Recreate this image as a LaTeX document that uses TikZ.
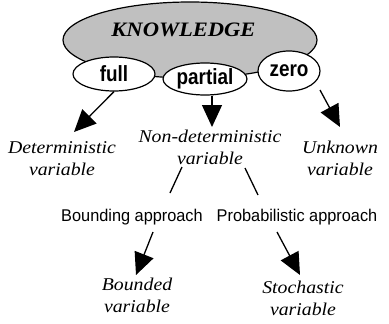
\documentclass[tikz,border=0pt]{standalone}
\usepackage{fontspec}
\setmainfont{Liberation Serif}
\newfontfamily\serifw[FakeStretch=1.1]{Liberation Serif}
\newfontfamily\sansr[FakeStretch=0.96]{Liberation Sans}
\newfontfamily\sansb[FakeStretch=0.86]{Liberation Sans}
\usetikzlibrary{shapes.geometric,arrows.meta}
\definecolor{knowgray}{RGB}{192,192,192}
\begin{document}
\begin{tikzpicture}[x=1pt,y=-1pt,
  bigell/.style={ellipse, draw, line width=1.2pt, fill=knowgray, inner sep=0pt},
  smallell/.style={ellipse, draw, line width=1.2pt, fill=white, inner sep=0pt,
    font=\sansb\bfseries\fontsize{22}{25}\selectfont},
  varlabel/.style={align=center, anchor=base, inner sep=0pt,
    font=\serifw\itshape\fontsize{18}{21.5}\selectfont},
  applabel/.style={anchor=base, inner sep=0pt, font=\sansr\fontsize{17}{20}\selectfont},
  arr/.style={line width=1.3pt, -{Triangle[length=22pt,width=20pt]}},
  link/.style={line width=1.3pt}]
\useasboundingbox (0,0) rectangle (389,324);
\node[bigell, minimum width=254pt, minimum height=76pt] (know) at (190,40) {};
\node[inner sep=0pt, anchor=base, font=\serifw\bfseries\itshape\fontsize{20.5}{24}\selectfont] (knowtxt) at (183.5,36) {KNOWLEDGE};
\node[smallell, minimum width=82pt, minimum height=34pt] (full) at (114,74) {full};
\node[smallell, minimum width=84pt, minimum height=32pt] (partial) at (205,79) {partial};
\node[smallell, minimum width=62pt, minimum height=40pt] (zero) at (289,71) {zero};

\node[varlabel] (det) at (62,175) {Deterministic\\variable};
\node[varlabel] (nondet) at (210,164) {Non-deterministic\\variable};
\node[varlabel] (unk) at (340,175) {Unknown\\variable};
\node[applabel] (bound) at (132,221) {Bounding approach};
\node[applabel] (prob) at (297,221) {Probabilistic approach};
\node[varlabel] (bvar) at (137,312) {Bounded\\variable};
\node[varlabel] (svar) at (303,315) {Stochastic\\variable};

\coordinate (fullTip) at (74,132);
\coordinate (partTip) at (212,127);
\coordinate (zeroStart) at (320,90);
\coordinate (zeroTip) at (340,127);
\coordinate (boundTop) at (182,167);
\coordinate (boundBot) at (170,193);
\coordinate (probTop) at (245,168);
\coordinate (probBot) at (258,195);
\coordinate (bStart) at (153,232);
\coordinate (bTip) at (136,275);
\coordinate (sStart) at (277,232);
\coordinate (sTip) at (300,275);

\draw[arr] (full.south) -- (fullTip);
\draw[arr] ([xshift=7pt]partial.south) -- (partTip);
\draw[arr] (zeroStart) -- (zeroTip);
\draw[link] (boundTop) -- (boundBot);
\draw[link] (probTop) -- (probBot);
\draw[arr] (bStart) -- (bTip);
\draw[arr] (sStart) -- (sTip);
\end{tikzpicture}
\end{document}
